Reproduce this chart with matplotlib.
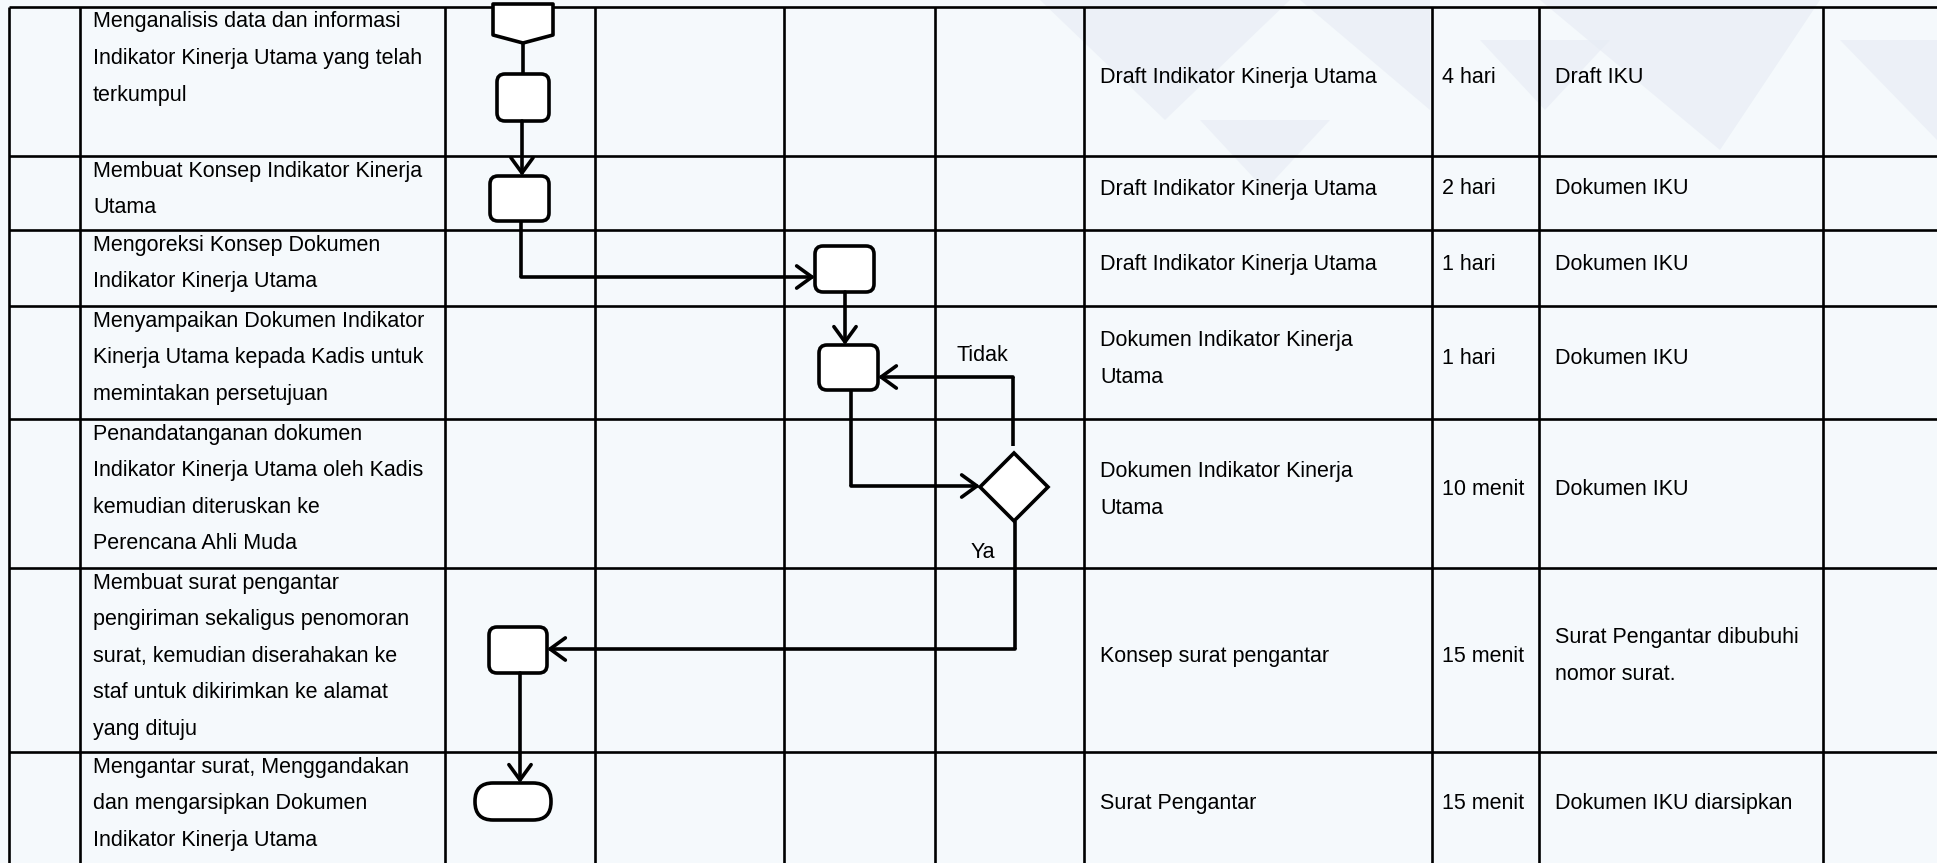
import matplotlib.pyplot as plt
from matplotlib.patches import FancyBboxPatch, Polygon, FancyArrowPatch

plt.rcParams['font.family'] = ['Liberation Sans', 'DejaVu Sans']

aktivitas = [
    ["Menganalisis data dan informasi", "Indikator Kinerja Utama yang telah", "terkumpul"],
    ["Membuat Konsep Indikator Kinerja", "Utama"],
    ["Mengoreksi Konsep Dokumen", "Indikator Kinerja Utama"],
    ["Menyampaikan Dokumen Indikator", "Kinerja Utama kepada Kadis untuk", "memintakan persetujuan"],
    ["Penandatanganan dokumen", "Indikator Kinerja Utama oleh Kadis", "kemudian diteruskan ke",
     "Perencana Ahli Muda"],
    ["Membuat surat pengantar", "pengiriman sekaligus penomoran", "surat, kemudian diserahakan ke",
     "staf untuk dikirimkan ke alamat", "yang dituju"],
    ["Mengantar surat, Menggandakan", "dan mengarsipkan Dokumen", "Indikator Kinerja Utama"],
]
kelengkapan = [
    ["Draft Indikator Kinerja Utama"],
    ["Draft Indikator Kinerja Utama"],
    ["Draft Indikator Kinerja Utama"],
    ["Dokumen Indikator Kinerja", "Utama"],
    ["Dokumen Indikator Kinerja", "Utama"],
    ["Konsep surat pengantar"],
    ["Surat Pengantar"],
]
waktu = ["4 hari", "2 hari", "1 hari", "1 hari", "10 menit", "15 menit", "15 menit"]
output = [
    ["Draft IKU"],
    ["Dokumen IKU"],
    ["Dokumen IKU"],
    ["Dokumen IKU"],
    ["Dokumen IKU"],
    ["Surat Pengantar dibubuhi", "nomor surat."],
    ["Dokumen IKU diarsipkan"],
]

# table grid (pixels)
col_x = [9, 80, 445, 595, 784, 935, 1084, 1432, 1539, 1823]
row_y = [7, 156, 230, 306, 419, 568, 752, 863]

W, H = 1937, 863
fig = plt.figure(figsize=(W / 100, H / 100), dpi=100)
fig.patch.set_facecolor('#f5f9fc')
ax = fig.add_axes([0, 0, 1, 1])
ax.set_xlim(0, W)
ax.set_ylim(H, 0)
ax.axis('off')
ax.set_facecolor('#f5f9fc')

# faint watermark shapes in the background
bg = '#e6ebf4'
for pts in [
    [(1040, 0), (1290, 0), (1165, 120)],
    [(1300, 0), (1430, 0), (1430, 110)],
    [(1540, 0), (1820, 0), (1720, 150)],
    [(1480, 40), (1610, 40), (1545, 110)],
    [(1840, 40), (1937, 40), (1937, 140)],
    [(1200, 120), (1330, 120), (1265, 190)],
]:
    ax.add_patch(Polygon(pts, closed=True, fc=bg, ec='none', alpha=0.6, zorder=0))

tlw = 1.9
for x in col_x:
    ax.plot([x, x], [row_y[0], row_y[-1]], color='black', lw=tlw, zorder=1, solid_capstyle='butt')
for y in row_y[:-1]:
    ax.plot([col_x[0], W], [y, y], color='black', lw=tlw, zorder=1, solid_capstyle='butt')

fs = 15.5
for i in range(len(aktivitas)):
    top, bot = row_y[i], row_y[i + 1]
    mid = (top + bot) / 2 - 4
    for j, line in enumerate(aktivitas[i]):
        ax.text(93, top + 15 + j * 36.5, line, fontsize=fs, va='center', ha='left', zorder=3)
    n = len(kelengkapan[i])
    for j, line in enumerate(kelengkapan[i]):
        ax.text(1100, mid + (j - (n - 1) / 2) * 37, line, fontsize=fs, va='center', ha='left', zorder=3)
    ax.text(1442, mid, waktu[i], fontsize=fs, va='center', ha='left', zorder=3)
    n = len(output[i])
    for j, line in enumerate(output[i]):
        ax.text(1555, mid + (j - (n - 1) / 2) * 37, line, fontsize=fs, va='center', ha='left', zorder=3)

slw = 2.6


def box(x0, y0, x1, y1, r=8):
    ax.add_patch(FancyBboxPatch((x0, y0), x1 - x0, y1 - y0,
                                boxstyle=f"round,pad=0,rounding_size={r}",
                                fc='white', ec='black', lw=slw, zorder=4))


def line(xs, ys):
    ax.plot(xs, ys, color='black', lw=slw, zorder=3, solid_capstyle='butt')


def arrow(p0, p1):
    ax.add_patch(FancyArrowPatch(p0, p1, arrowstyle='->,head_length=0.55,head_width=0.4',
                                 mutation_scale=20, color='black', lw=slw,
                                 shrinkA=0, shrinkB=0, zorder=5))


# start connector
ax.add_patch(Polygon([(493, 4), (553, 4), (553, 35), (523, 43), (493, 35)], closed=True,
                     fc='white', ec='black', lw=slw, joinstyle='round', zorder=4))
line([523, 523], [43, 74])
box(497, 74, 549, 121)
arrow((522, 121), (522, 176))
box(490, 176, 549, 221)
line([521, 521], [221, 277])
arrow((521, 277), (815, 277))
box(815, 246, 874, 292)
arrow((845, 292), (845, 345))
box(819, 345, 878, 390)
line([851, 851], [390, 486])
arrow((851, 486), (980, 486))
# gateway
ax.add_patch(Polygon([(1014, 453), (1048, 487), (1014, 521), (980, 487)], closed=True,
                     fc='white', ec='black', lw=slw, zorder=4))
line([1013, 1013], [446, 377])
arrow((1013, 377), (878, 377))
ax.text(982, 355, "Tidak", fontsize=fs, ha='center', va='center', zorder=3)
ax.text(983, 552, "Ya", fontsize=fs, ha='center', va='center', zorder=3)
line([1015, 1015], [521, 649])
arrow((1015, 649), (547, 649))
box(489, 627, 547, 673)
arrow((520, 673), (520, 783))
box(475, 783, 551, 820, r=18)

fig.savefig('out.png', dpi=100, facecolor=fig.get_facecolor())
